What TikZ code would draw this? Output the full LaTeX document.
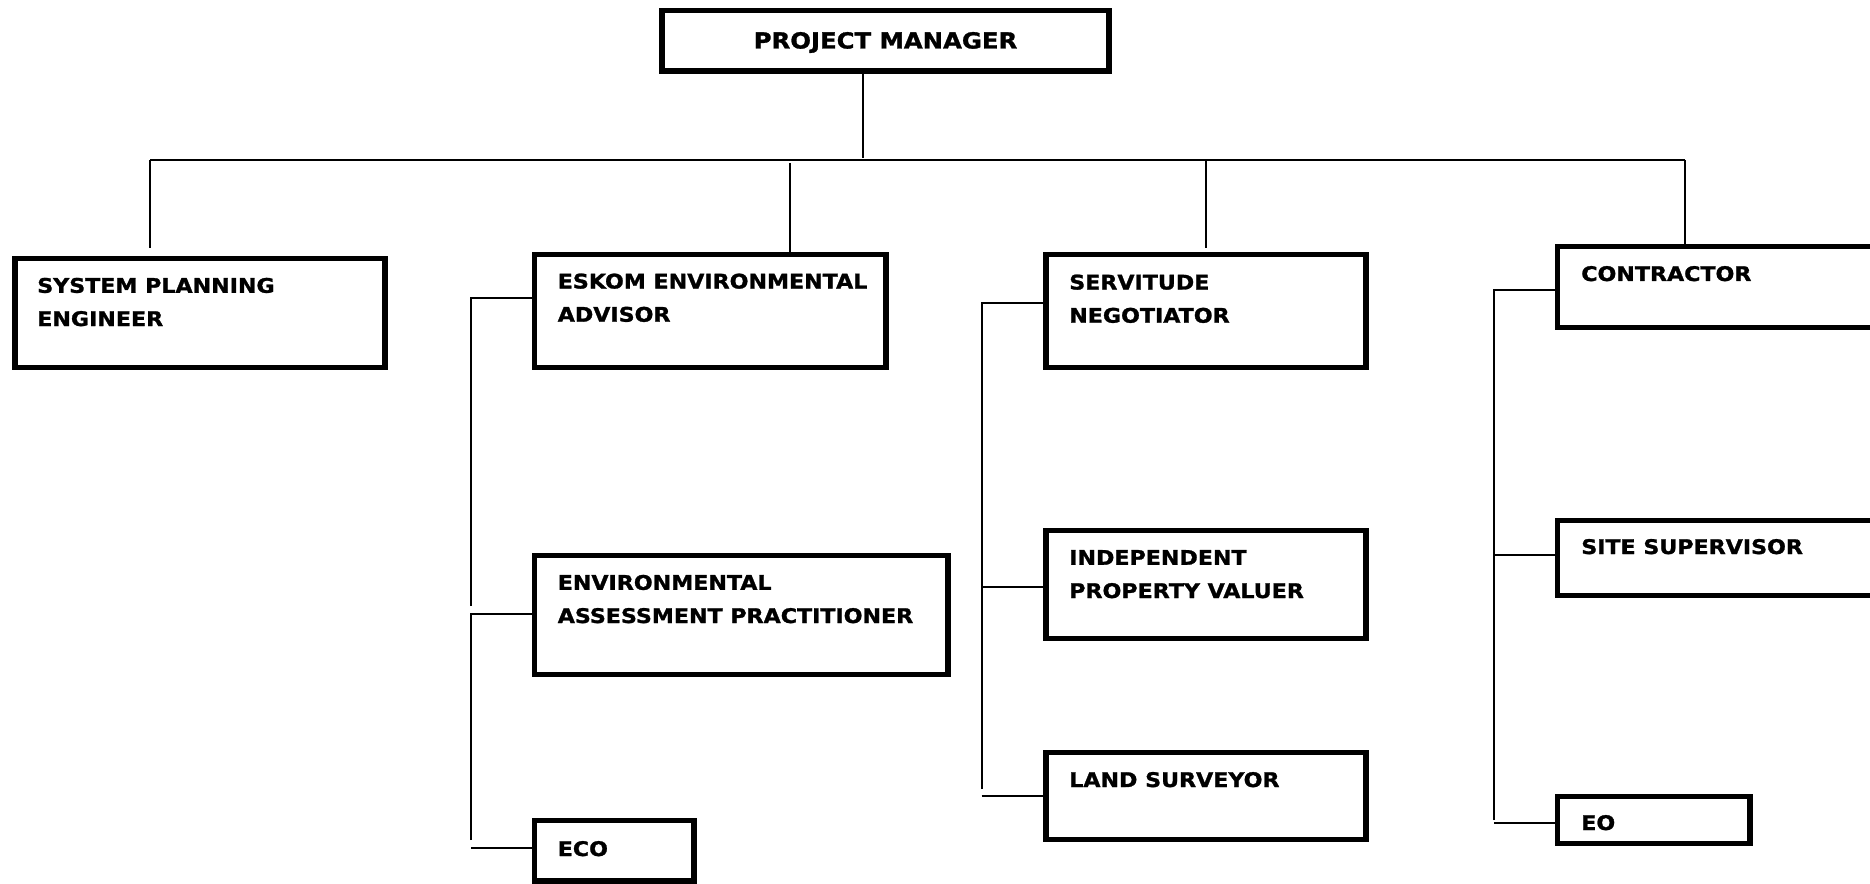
\documentclass[tikz,border=0pt]{standalone}
\usepackage{fontspec}
\setmainfont{DejaVu Sans}
\newfontfamily\lblfont[FakeStretch=1.1,BoldFeatures={FakeBold=1.3}]{DejaVu Sans}
\usetikzlibrary{fit}
\tikzset{
  box/.style={draw=black, line width=4.3pt, inner sep=0pt, outer sep=0pt, rectangle},
  lbl/.style={anchor=base west, inner sep=0pt, align=left, font=\lblfont\fontsize{15.1}{24.9}\selectfont\bfseries},
  conn/.style={draw=black, line width=1.5pt},
}
\begin{document}
\begin{tikzpicture}[x=0.75pt,y=-0.75pt]
\useasboundingbox (0,0) rectangle (1870,884);
\clip (0,0) rectangle (1870,884);
% box corner coordinates
\coordinate (pmA) at (662,10.5);    \coordinate (pmB) at (1109,71);
\coordinate (speA) at (15,258.5);   \coordinate (speB) at (385,367.5);
\coordinate (eskA) at (534.5,254.5);\coordinate (eskB) at (886,367.5);
\coordinate (eapA) at (534.5,555.5);\coordinate (eapB) at (948,674.5);
\coordinate (ecoA) at (534.5,820.5);\coordinate (ecoB) at (694,881);
\coordinate (srvA) at (1046,254.5); \coordinate (srvB) at (1366,367.5);
\coordinate (ipvA) at (1046,530.5); \coordinate (ipvB) at (1366,638.5);
\coordinate (lsA) at (1046,752.5);  \coordinate (lsB) at (1366,839.5);
\coordinate (ctA) at (1557.5,246.5);\coordinate (ctB) at (1890,327.5);
\coordinate (ssA) at (1557.5,520.5);\coordinate (ssB) at (1890,595.5);
\coordinate (eoA) at (1557.5,796.5);\coordinate (eoB) at (1750,843.5);
% boxes
\node[box, fit=(pmA)(pmB)] (pm) {};
\node[box, fit=(speA)(speB)] (spe) {};
\node[box, fit=(eskA)(eskB)] (esk) {};
\node[box, fit=(eapA)(eapB)] (eap) {};
\node[box, fit=(ecoA)(ecoB)] (eco) {};
\node[box, fit=(srvA)(srvB)] (srv) {};
\node[box, fit=(ipvA)(ipvB)] (ipv) {};
\node[box, fit=(lsA)(lsB)] (ls) {};
\node[box, fit=(ctA)(ctB)] (ct) {};
\node[box, fit=(ssA)(ssB)] (ss) {};
\node[box, fit=(eoA)(eoB)] (eo) {};
% labels (base anchor = baseline of last line)
\node[lbl, anchor=base, font=\lblfont\fontsize{16.6}{24.9}\selectfont\bfseries] (tpm) at (885.5,48.5) {PROJECT MANAGER};
\node[lbl] (tspe) at (37,326) {SYSTEM PLANNING\\ENGINEER};
\node[lbl] (tesk) at (557.5,321.7) {ESKOM ENVIRONMENTAL\\ADVISOR};
\node[lbl] (teap) at (557.5,623) {ENVIRONMENTAL\\ASSESSMENT PRACTITIONER};
\node[lbl] (teco) at (557.5,856) {ECO};
\node[lbl] (tsrv) at (1069,322.7) {SERVITUDE\\NEGOTIATOR};
\node[lbl] (tipv) at (1069,598) {INDEPENDENT\\PROPERTY VALUER};
\node[lbl] (tls) at (1069,787) {LAND SURVEYOR};
\node[lbl] (tct) at (1581,281) {CONTRACTOR};
\node[lbl] (tss) at (1581,554) {SITE SUPERVISOR};
\node[lbl] (teo) at (1581,830) {EO};
% top-level connectors
\coordinate (pmd) at (863,158);
\coordinate (busL) at (150,160);
\coordinate (busR) at (1685,160);
\coordinate (speT) at (150,248);
\coordinate (eskD) at (790,163);
\coordinate (srvD) at (1206,160);
\coordinate (srvT) at (1206,248);
\draw[conn] (pmd |- pm.south) -- (pmd);
\draw[conn] (busL) -- (busR);
\draw[conn] (busL) -- (speT);
\draw[conn] (eskD) -- (eskD |- esk.north);
\draw[conn] (srvD) -- (srvT);
\draw[conn] (busR) -- (busR |- ct.north);
% ESKOM group
\coordinate (e1) at (471,298);  \coordinate (e1b) at (471,606);
\coordinate (e2) at (471,614);  \coordinate (e3) at (471,840);
\coordinate (e3h) at (471,848);
\draw[conn] (e1b) -- (e1) -- (e1 -| esk.west);
\draw[conn] (e3) -- (e2) -- (e2 -| eap.west);
\draw[conn] (e3h) -- (e3h -| eco.west);
% Servitude group
\coordinate (s1) at (981.5,303); \coordinate (s2) at (981.5,587);
\coordinate (s3) at (981.5,789); \coordinate (s3h) at (981.5,796);
\draw[conn] (s3) -- (s1) -- (s1 -| srv.west);
\draw[conn] (s2) -- (s2 -| ipv.west);
\draw[conn] (s3h) -- (s3h -| ls.west);
% Contractor group
\coordinate (c1) at (1494,290); \coordinate (c2) at (1494,555);
\coordinate (c3) at (1494,820); \coordinate (c3h) at (1494,823);
\draw[conn] (c3) -- (c1) -- (c1 -| ct.west);
\draw[conn] (c2) -- (c2 -| ss.west);
\draw[conn] (c3h) -- (c3h -| eo.west);
\end{tikzpicture}
\end{document}
